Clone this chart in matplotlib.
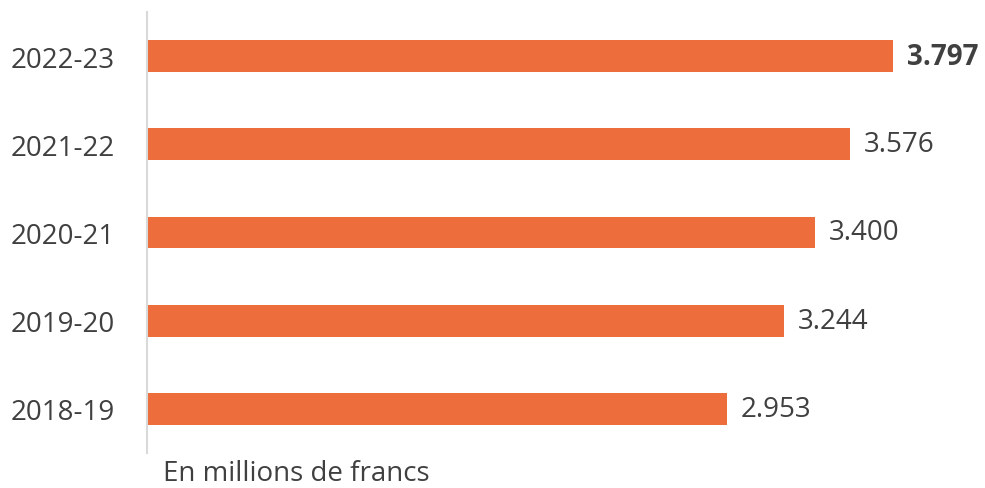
import matplotlib.pyplot as plt

years = ['2018-19', '2019-20', '2020-21', '2021-22', '2022-23']
values = [2.953, 3.244, 3.400, 3.576, 3.797]
labels = ['2.953', '3.244', '3.400', '3.576', '3.797']

plt.rcParams['font.family'] = ['Open Sans', 'DejaVu Sans']

fig = plt.figure(figsize=(9.85, 4.89), dpi=100)
ax = fig.add_axes([147 / 985, 1 - 454 / 489, 830 / 985, 441 / 489])

ax.barh(years, values, height=0.36, color='#ED6D3D')
ax.set_xlim(0, 830 / 196.5)
ax.set_ylim(-0.5, 4.5)

for i, v in enumerate(values):
    ax.text(v + 0.07, i, labels[i], va='center', ha='left', fontsize=20,
            color='#404040', fontweight='bold' if i == len(values) - 1 else 'normal')

for s in ['top', 'right', 'bottom']:
    ax.spines[s].set_visible(False)
ax.spines['left'].set_color('#D9D9D9')
ax.spines['left'].set_linewidth(1.5)
ax.set_xticks([])
ax.tick_params(axis='y', length=0, pad=23, labelsize=20, labelcolor='#404040')

fig.text(163 / 985, 1 - 474 / 489, 'En millions de francs', fontsize=20,
         color='#404040', va='center', ha='left')

fig.savefig('out.png')
